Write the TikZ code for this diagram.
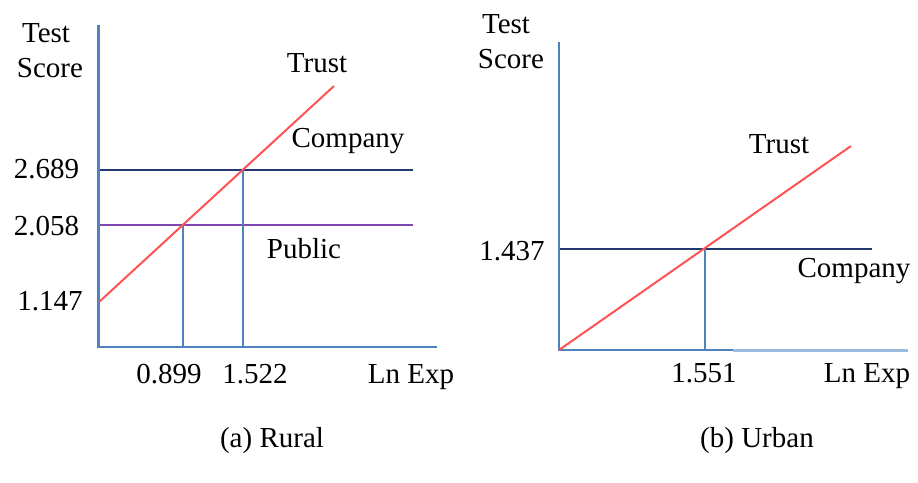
\documentclass[tikz,border=0pt]{standalone}
\usepackage{fontspec}
\setmainfont{Liberation Serif}
\definecolor{axisblue}{RGB}{79,129,189}
\definecolor{lightaxis}{RGB}{155,186,222}
\definecolor{companyblue}{RGB}{36,58,110}
\definecolor{publicpurple}{RGB}{128,70,176}
\definecolor{trustred}{RGB}{255,82,82}
\begin{document}
\begin{tikzpicture}[x=1pt, y=-1pt,
  lbl/.style = {anchor = base, inner sep = 0pt, font = \fontsize{29}{34}\selectfont},
  axisline/.style = {draw = axisblue, line width = 2.3pt},
  levelline/.style = {line width = 2.3pt},
  trustline/.style = {draw = trustred, line width = 2pt}]
\useasboundingbox (0,0) rectangle (918,482);
\coordinate (aTop) at (98.5,25);
\coordinate (aO) at (98.5,347);
\coordinate (aEnd) at (437,347);
\coordinate (aC0) at (98.5,170);
\coordinate (aC1) at (413,170);
\coordinate (aP0) at (98.5,225);
\coordinate (aP1) at (413,225);
\coordinate (aT0) at (99,302);
\coordinate (aT1) at (334,86);
\coordinate (aXP) at (183,225);
\coordinate (aXC) at (243,170);
\draw [levelline, draw = companyblue] (aC0) -- (aC1);
\draw [levelline, draw = publicpurple] (aP0) -- (aP1);
\draw [axisline] (aXP) -- (aXP |- aO);
\draw [axisline] (aXC) -- (aXC |- aO);
\draw [axisline] (aTop) -- (aO) -- (aEnd);
\draw [trustline] (aT0) -- (aT1);
\node [lbl] (aTest) at (46,42) {Test};
\node [lbl] (aScore) at (50,77) {Score};
\node [lbl] (aTrust) at (317,72) {Trust};
\node [lbl] (aCompany) at (348,147) {Company};
\node [lbl] (aPublic) at (304,258) {Public};
\node [lbl] (a2689) at (46.5,178) {2.689};
\node [lbl] (a2058) at (46.5,235) {2.058};
\node [lbl] (a1147) at (50,310) {1.147};
\node [lbl] (a0899) at (169,383) {0.899};
\node [lbl] (a1522) at (255,383) {1.522};
\node [lbl] (aLnExp) at (411,383) {Ln Exp};
\node [lbl] (aCap) at (272,447) {(a) Rural};
\coordinate (bTop) at (559,42);
\coordinate (bO) at (559,350);
\coordinate (bMid) at (733,350);
\coordinate (bEnd) at (908,350);
\coordinate (bC0) at (559,249);
\coordinate (bC1) at (872,249);
\coordinate (bT1) at (851,146);
\coordinate (bX) at (705,249);
\draw [levelline, draw = companyblue] (bC0) -- (bC1);
\draw [axisline] (bX) -- (bX |- bO);
\draw [draw = lightaxis, line width = 3pt] (bMid) -- (bEnd);
\draw [axisline] (bTop) -- (bO) -- (bMid);
\draw [trustline] (bO) -- (bT1);
\node [lbl] (bTest) at (506,33) {Test};
\node [lbl] (bScore) at (511,68) {Score};
\node [lbl] (bTrust) at (779,153) {Trust};
\node [lbl] (bCompany) at (854,277) {Company};
\node [lbl] (b1437) at (512,260) {1.437};
\node [lbl] (b1551) at (704,382) {1.551};
\node [lbl] (bLnExp) at (867,382) {Ln Exp};
\node [lbl] (bCap) at (757,447) {(b) Urban};
\end{tikzpicture}
\end{document}
